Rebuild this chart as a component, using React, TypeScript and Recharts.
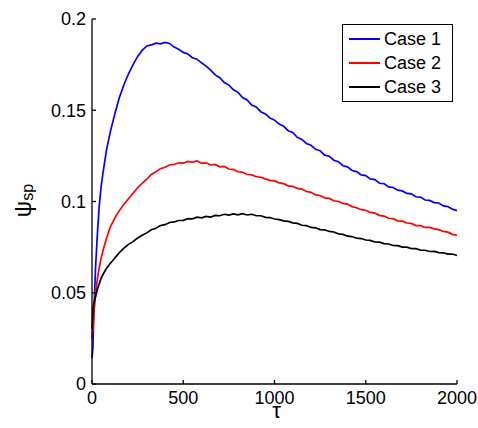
import { LineChart, Line, XAxis, YAxis, Legend } from "recharts";

const TAU = [
  0, 5, 10, 20, 30, 40, 50, 60, 80, 100, 125, 150, 175, 200, 225, 250, 275,
  300, 325, 350, 375, 400, 425, 450, 475, 500, 525, 550, 575, 600, 625, 650, 675,
  700, 725, 750, 775, 800, 825, 850, 875, 900, 925, 950, 975, 1000, 1025, 1050, 1075,
  1100, 1125, 1150, 1175, 1200, 1225, 1250, 1275, 1300, 1325, 1350, 1375, 1400, 1425,
  1450, 1475, 1500, 1525, 1550, 1575, 1600, 1625, 1650, 1675, 1700, 1725, 1750, 1775,
  1800, 1825, 1850, 1875, 1900, 1925, 1950, 1975, 2000,
];

const CASE_1 = [
  0.014, 0.02, 0.039, 0.065, 0.083, 0.098, 0.108, 0.1155, 0.1285, 0.138, 0.148, 0.157, 0.164,
  0.17, 0.175, 0.1795, 0.1828,
  0.1852, 0.1858, 0.1868, 0.1864, 0.1872, 0.1866, 0.1846, 0.1834, 0.1817, 0.1808, 0.1788,
  0.178, 0.176, 0.1742, 0.172, 0.1694, 0.1678, 0.1652, 0.1638, 0.1612, 0.1598, 0.157,
  0.1556, 0.1528, 0.1518, 0.1492, 0.148, 0.1458, 0.1446, 0.1424, 0.1412, 0.1388, 0.1378,
  0.1352, 0.134, 0.1318, 0.1308, 0.1286, 0.1278, 0.1254, 0.1248, 0.1226, 0.1218, 0.1196,
  0.119, 0.117, 0.1164, 0.1146, 0.1142, 0.1124, 0.112, 0.11, 0.1098, 0.108, 0.1077, 0.1062,
  0.1058, 0.1044, 0.1042, 0.1026, 0.1024, 0.1008, 0.1006, 0.0994, 0.0992, 0.0976, 0.0972,
  0.0958, 0.095,
];

const CASE_2 = [
  0.025, 0.03, 0.038, 0.05, 0.058, 0.064, 0.069, 0.073, 0.08, 0.086, 0.091, 0.095, 0.0985,
  0.1015, 0.1045, 0.1075, 0.11,
  0.1122, 0.1148, 0.1163, 0.118, 0.1188, 0.12, 0.1203, 0.1212, 0.121, 0.122, 0.1215, 0.1222,
  0.121, 0.1212, 0.12, 0.1203, 0.119, 0.1192, 0.1178, 0.1176, 0.1163, 0.116, 0.1148,
  0.1146, 0.1136, 0.1133, 0.1124, 0.1116, 0.1113, 0.1102, 0.1098, 0.1086, 0.1083, 0.1072,
  0.1068, 0.1055, 0.105, 0.1036, 0.1033, 0.102, 0.1017, 0.1004, 0.1, 0.099, 0.0986, 0.0972,
  0.0966, 0.0955, 0.0952, 0.094, 0.0936, 0.0924, 0.092, 0.0908, 0.0906, 0.0894, 0.0892,
  0.0882, 0.088, 0.0868, 0.0868, 0.0858, 0.0858, 0.085, 0.0846, 0.0836, 0.0832, 0.082,
  0.0816,
];

const CASE_3 = [
  0.03, 0.041, 0.044, 0.048, 0.052, 0.055, 0.058, 0.06, 0.0635, 0.066, 0.069, 0.072, 0.0745,
  0.0765, 0.078, 0.08, 0.0815,
  0.0828, 0.0845, 0.0853, 0.0868, 0.0873, 0.0885, 0.0888, 0.0896, 0.0897, 0.0906, 0.0905,
  0.0914, 0.091, 0.0918, 0.0915, 0.0924, 0.0922, 0.093, 0.0925, 0.0932, 0.0927, 0.0933,
  0.0926, 0.093, 0.0922, 0.0922, 0.0913, 0.0912, 0.0904, 0.0901, 0.0894, 0.0891, 0.0883,
  0.088, 0.087, 0.0868, 0.0858, 0.0856, 0.0846, 0.0845, 0.0836, 0.0833, 0.0823, 0.082,
  0.081, 0.0808, 0.0799, 0.0797, 0.0789, 0.0787, 0.0778, 0.0777, 0.0769, 0.0767, 0.0759,
  0.0758, 0.075, 0.075, 0.0742, 0.0742, 0.0734, 0.0733, 0.0726, 0.0727, 0.072, 0.0719,
  0.0712, 0.0712, 0.0704,
];

const X_TICKS = [0, 500, 1000, 1500, 2000];
const Y_TICKS = [0, 0.05, 0.1, 0.15, 0.2];

const SERIES = [
  { key: "case1", name: "Case 1", color: "#0000ff" },
  { key: "case2", name: "Case 2", color: "#ff0000" },
  { key: "case3", name: "Case 3", color: "#000000" },
];

const data = TAU.map((t, i) => ({
  tau: t,
  case1: CASE_1[i],
  case2: CASE_2[i],
  case3: CASE_3[i],
}));

const FONT = "'Liberation Sans', Arial, Helvetica, sans-serif";
const tickStyle = { fill: "#000", fontSize: 18, fontFamily: FONT };

// MATLAB style legend box
const renderLegend = () => (
  <div
    style={{
      border: "1px solid #000",
      background: "#fff",
      width: 111,
      padding: "2px 0",
      boxSizing: "border-box",
      fontFamily: FONT,
    }}
  >
    {SERIES.map((s) => (
      <div key={s.key} style={{ display: "flex", alignItems: "center", height: 24 }}>
        <div style={{ width: 31, borderTop: `2px solid ${s.color}`, marginLeft: 6, marginRight: 4 }} />
        <span style={{ fontSize: 18, color: "#000" }}>{s.name}</span>
      </div>
    ))}
  </div>
);

const XLabel = (props: any) => {
  const vb = props.viewBox || {};
  const cx = (vb.x || 0) + (vb.width || 0) / 2 + 2;
  return (
    <text x={cx} y={(vb.y || 0) + 34} textAnchor="middle" fontFamily={FONT} fontSize={22} fill="#000">
      τ
    </text>
  );
};

const YLabel = (props: any) => {
  const vb = props.viewBox || {};
  const cx = 31;
  const cy = (vb.y || 0) + (vb.height || 0) / 2 - 1;
  return (
    <text
      x={cx}
      y={cy}
      textAnchor="middle"
      transform={`rotate(-90, ${cx}, ${cy})`}
      fontFamily={FONT}
      fill="#000"
    >
      <tspan fontSize={23}>ψ</tspan>
      <tspan fontSize={16} dy={2}>sp</tspan>
    </text>
  );
};

export default function App() {
  return (
    <div style={{ position: "absolute", left: 0, top: 0, width: 478, height: 428, background: "#fff" }}>
      <LineChart width={478} height={428} data={data} margin={{ top: 19, right: 21, left: 0, bottom: 0 }}>
        <XAxis
          dataKey="tau"
          type="number"
          domain={[0, 2000]}
          ticks={X_TICKS}
          height={44}
          tickSize={-4}
          tickMargin={11}
          tick={tickStyle}
          stroke="#000"
          strokeWidth={1.3}
          label={<XLabel />}
        />
        <XAxis
          xAxisId="top"
          orientation="top"
          dataKey="tau"
          type="number"
          domain={[0, 2000]}
          ticks={X_TICKS}
          height={0}
          tickSize={-4}
          tick={false}
          stroke="#000"
          strokeWidth={1.3}
        />
        <YAxis
          type="number"
          domain={[0, 0.2]}
          ticks={Y_TICKS}
          width={92}
          tickSize={-4}
          tickMargin={10}
          tick={tickStyle}
          stroke="#000"
          strokeWidth={1.3}
          label={<YLabel />}
        />
        <YAxis
          yAxisId="right"
          orientation="right"
          type="number"
          domain={[0, 0.2]}
          ticks={Y_TICKS}
          width={0}
          tickSize={-4}
          tick={false}
          stroke="#000"
          strokeWidth={1.3}
        />
        {SERIES.map((s) => (
          <Line
            key={s.key}
            dataKey={s.key}
            name={s.name}
            stroke={s.color}
            strokeWidth={1.7}
            dot={false}
            type="linear"
            isAnimationActive={false}
          />
        ))}
        <Legend
          layout="vertical"
          align="center"
          verticalAlign="middle"
          content={renderLegend}
          wrapperStyle={{ left: 342, top: 24, width: "auto", height: "auto" }}
        />
      </LineChart>
    </div>
  );
}
